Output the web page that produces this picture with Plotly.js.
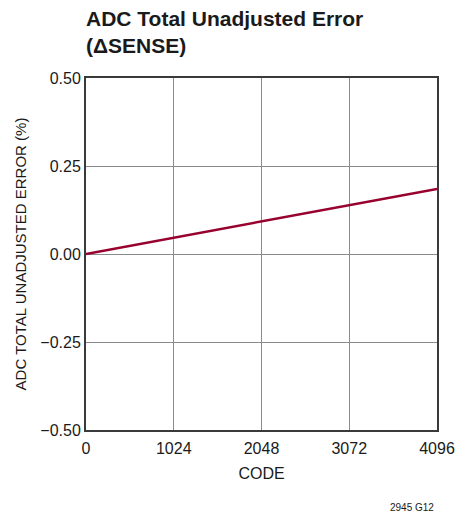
<!DOCTYPE html>
<html><head><meta charset="utf-8">
<script src="https://cdn.plot.ly/plotly-3.0.1.min.js"></script>
<style>body{margin:0;padding:0;background:#fff}#c{width:472px;height:518px}</style>
</head><body><div id="c"></div>
<script>
const codes = [0, 1024, 2048, 3072, 4096];
const errorPct = [0, 0.046, 0.092, 0.139, 0.185];
const xTicks = [0, 1024, 2048, 3072, 4096];
const yTicks = [-0.5, -0.25, 0, 0.25, 0.5];
const yTickText = ['−0.50', '−0.25', '0.00', '0.25', '0.50'];

const F = 'Liberation Sans Narrow, Liberation Sans, Arial, sans-serif';
const W = 472, H = 518, L = 86, R = 35, T = 78, B = 88;
const pw = W - L - R, ph = H - T - B;
const px = v => (v - L) / pw;
const py = v => (H - B - v) / ph;
const trace = {x: codes, y: errorPct, type: 'scatter', mode: 'lines',
  line: {color: '#98002e', width: 2.5}, hoverinfo: 'skip'};
const layout = {
  width: W, height: H,
  margin: {l: L, r: R, t: T, b: B},
  paper_bgcolor: '#fff', plot_bgcolor: '#fff',
  showlegend: false,
  font: {family: F, color: '#1a1a1a', size: 16},
  xaxis: {range: [0, 4096], tickvals: xTicks, ticktext: xTicks.map(String),
    showgrid: true, gridcolor: '#8a8a8a', gridwidth: 1, zeroline: false,
    showline: true, linecolor: '#3a3a3a', linewidth: 2, mirror: true, ticks: '',
    ticklabelstandoff: 3,
    tickfont: {size: 16}, title: {text: 'CODE', font: {size: 16}, standoff: 12}},
  yaxis: {range: [-0.5, 0.5], tickvals: yTicks, ticktext: yTickText,
    showgrid: true, gridcolor: '#8a8a8a', gridwidth: 1, zeroline: false,
    showline: true, linecolor: '#3a3a3a', linewidth: 2, mirror: true, ticks: '',
    tickfont: {size: 16}, title: {text: 'ADC TOTAL UNADJUSTED ERROR (%)', font: {size: 15}, standoff: 10}},
  annotations: [
    {text: '<b>ADC Total Unadjusted Error<br>(ΔSENSE)</b>', xref: 'paper', yref: 'paper',
     x: px(84), xanchor: 'left', y: py(5), yanchor: 'top', align: 'left', showarrow: false,
     font: {size: 21, family: F, color: '#1a1a1a'}},
    {text: '2945 G12', xref: 'paper', yref: 'paper', x: px(436),
     xanchor: 'right', yanchor: 'middle', y: py(507), showarrow: false,
     font: {size: 10, family: F, color: '#1a1a1a'}}]
};
Plotly.newPlot('c', [trace], layout, {displayModeBar: false, staticPlot: true});
</script></body></html>
